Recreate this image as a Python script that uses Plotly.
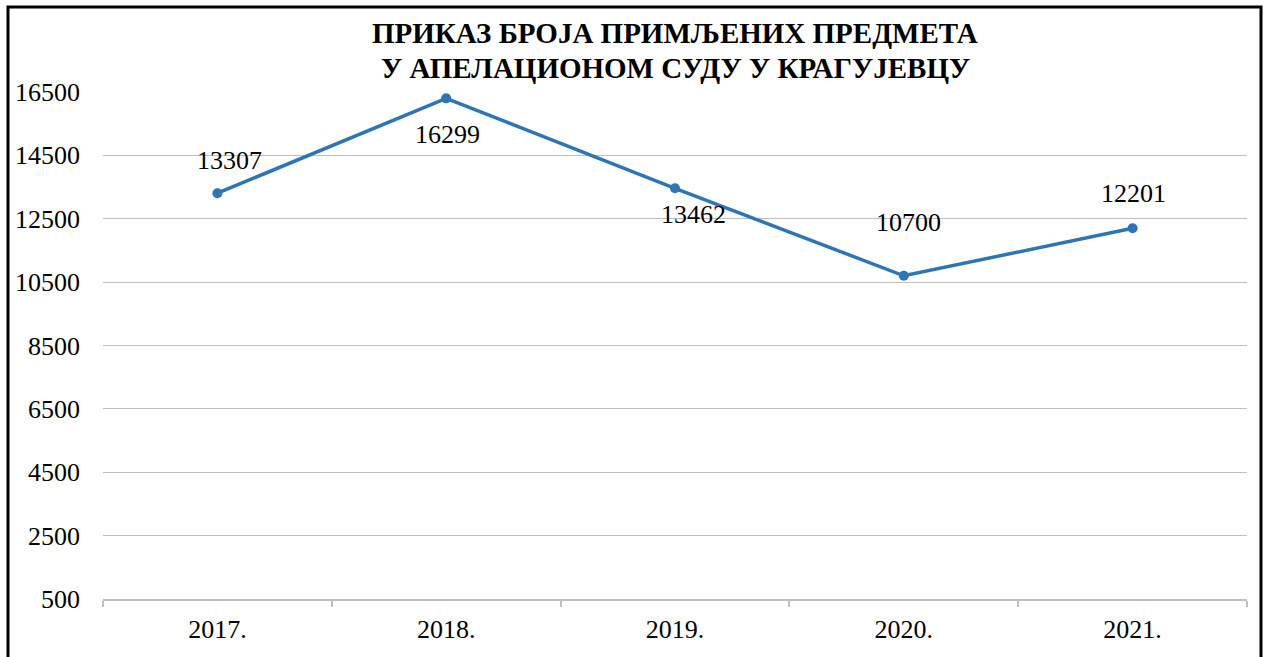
import plotly.graph_objects as go

years = ["2017.", "2018.", "2019.", "2020.", "2021."]
cases = [13307, 16299, 13462, 10700, 12201]
title_lines = ["ПРИКАЗ БРОЈА ПРИМЉЕНИХ ПРЕДМЕТА", "У АПЕЛАЦИОНОМ СУДУ У КРАГУЈЕВЦУ"]

# label offsets in pixels (styling, not data)
label_dx = [12, 1, 18, 5, 1]
label_dy = [33, -36, -26, 53, 35]

FONT = "Liberation Serif"
BLUE = "#2e75b6"
GRID = "#bfbfbf"

fig = go.Figure()
fig.add_trace(go.Scatter(
    x=years, y=cases, mode="lines+markers",
    line=dict(color=BLUE, width=3.5),
    marker=dict(color=BLUE, size=10),
    hoverinfo="x+y", showlegend=False,
))

for i, y in enumerate(cases):
    fig.add_annotation(
        xref="x", yref="y",
        x=i, y=y, text=str(y), showarrow=False,
        font=dict(family=FONT, size=26, color="black"),
        xanchor="center", yanchor="middle",
        xshift=label_dx[i], yshift=label_dy[i],
    )

# two-line chart title
for line, ypos in zip(title_lines, [(599 - 33) / 507, (599 - 68) / 507]):
    fig.add_annotation(
        xref="paper", yref="paper", x=0.5, y=ypos,
        text="<b>" + line + "</b>", showarrow=False,
        xanchor="center", yanchor="middle",
        font=dict(family=FONT, size=29, color="black"),
    )

fig.update_layout(
    width=1266, height=657,
    margin=dict(l=103, r=19, t=92, b=58),
    paper_bgcolor="white", plot_bgcolor="white",
    font=dict(family=FONT, size=26, color="black"),
)

fig.update_xaxes(
    type="category", range=[-0.5, 4.5],
    showline=True, linecolor=GRID, linewidth=1.5,
    ticks="outside", tickson="boundaries", ticklen=6, tickcolor=GRID, tickwidth=1.5,
    showgrid=False, ticklabelstandoff=6,
    tickfont=dict(family=FONT, size=26, color="black"),
)
fig.update_yaxes(
    range=[500, 16500], tick0=500, dtick=2000, tickformat="d",
    showgrid=True, gridcolor=GRID, gridwidth=1.2,
    showline=False, zeroline=False, ticks="",
    ticklabelstandoff=22,
    tickfont=dict(family=FONT, size=26, color="black"),
)

# outer frame around the whole chart
fig.add_shape(
    type="rect", xref="paper", yref="paper",
    x0=(8 - 103) / 1144, x1=(1261 - 103) / 1144,
    y0=(599 - 665) / 507, y1=(599 - 7) / 507,
    line=dict(color="black", width=3), fillcolor="rgba(0,0,0,0)", layer="above",
)

fig.write_html("out.html", config={"displayModeBar": False},
               post_script="document.body.style.margin='0';")
